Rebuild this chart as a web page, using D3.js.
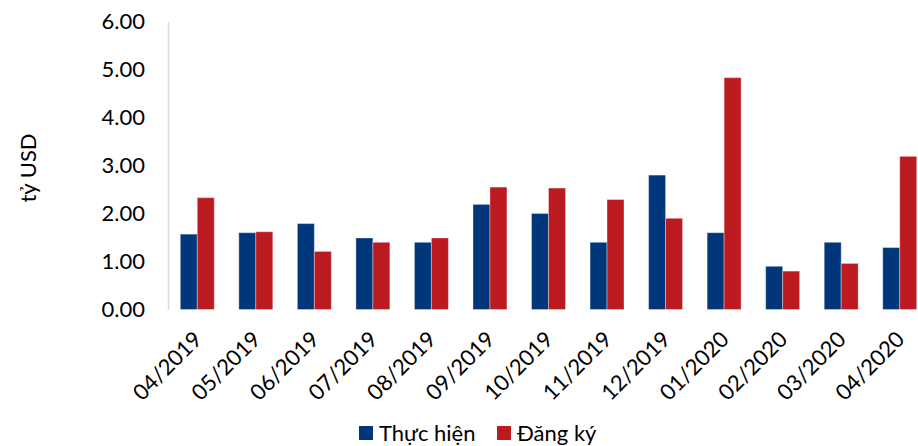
<!DOCTYPE html>
<html>
<head>
<meta charset="utf-8">
<script src="https://cdn.jsdelivr.net/npm/d3@7"></script>
<style>
  html, body { margin: 0; padding: 0; background: #fff; }
  svg { display: block; font-family: Lato, "Open Sans", sans-serif; }
</style>
</head>
<body>
<svg id="chart" width="918" height="446"></svg>
<script>
// Monthly FDI: disbursed (Thực hiện) vs registered (Đăng ký), billion USD
const months = ["04/2019","05/2019","06/2019","07/2019","08/2019","09/2019","10/2019",
                "11/2019","12/2019","01/2020","02/2020","03/2020","04/2020"];
const thucHien = [1.57, 1.60, 1.79, 1.49, 1.40, 2.19, 2.00, 1.40, 2.80, 1.60, 0.90, 1.40, 1.29];
const dangKy   = [2.33, 1.62, 1.21, 1.40, 1.49, 2.55, 2.53, 2.29, 1.90, 4.83, 0.80, 0.96, 3.19];
const yTicks = [0, 1, 2, 3, 4, 5, 6];
const seriesNames = ["Thực hiện", "Đăng ký"];
const colors = ["#00377a", "#bb1a21"];

const svg = d3.select("#chart");
const plotLeft = 168, plotRight = 929, plotTop = 21.5, plotBottom = 309.5;

const x = d3.scaleBand().domain(months).range([plotLeft, plotRight])
  .paddingInner(0.42).paddingOuter(0.21);
const sub = d3.scaleBand().domain(seriesNames).range([0, x.bandwidth()]);
const y = d3.scaleLinear().domain([0, 6]).range([plotBottom, plotTop]);

// Bars
const rows = months.map((m, i) => ({ m, vals: [thucHien[i], dangKy[i]] }));
const g = svg.append("g");
g.selectAll("g.grp").data(rows).join("g")
  .attr("class", "grp")
  .attr("transform", d => `translate(${x(d.m)},0)`)
  .selectAll("rect").data(d => d.vals.map((v, k) => ({ v, k })))
  .join("rect")
  .attr("x", d => sub(seriesNames[d.k]))
  .attr("width", sub.bandwidth())
  .attr("y", d => y(d.v))
  .attr("height", d => y(0) - y(d.v))
  .attr("fill", d => colors[d.k])
  .attr("stroke", "rgba(255,255,255,0.35)")
  .attr("stroke-width", 1);

// Y axis
const yAxis = svg.append("g")
  .attr("transform", `translate(${plotLeft},0)`)
  .call(d3.axisLeft(y).tickValues(yTicks).tickFormat(d3.format(".2f"))
    .tickSize(0).tickPadding(23));
yAxis.select(".domain").attr("stroke", "#d9d9d9").attr("stroke-width", 1.5);
yAxis.selectAll("text").attr("font-size", 22).attr("fill", "#000")
  .attr("font-family", "Lato, sans-serif");

// X axis labels
const xAxis = svg.append("g")
  .attr("transform", `translate(0,${plotBottom})`)
  .call(d3.axisBottom(x).tickSize(0));
xAxis.select(".domain").remove();
xAxis.selectAll("text")
  .attr("font-size", 22).attr("fill", "#000")
  .attr("font-family", "Lato, sans-serif")
  .attr("text-anchor", "end")
  .attr("dy", 0)
  .attr("transform", "translate(4,29) rotate(-45)");

// Y axis title
svg.append("text")
  .attr("transform", "translate(36,168) rotate(-90)")
  .attr("text-anchor", "middle")
  .attr("font-size", 22)
  .attr("fill", "#000")
  .text("tỷ USD");

// Legend
const legend = svg.append("g").attr("transform", "translate(359,426)");
const items = [{ name: seriesNames[0], dx: 0 }, { name: seriesNames[1], dx: 138 }];
items.forEach((it, k) => {
  const lg = legend.append("g").attr("transform", `translate(${it.dx},0)`);
  lg.append("rect").attr("width", 14).attr("height", 14).attr("fill", colors[k]);
  lg.append("text").attr("x", 20).attr("y", 7).attr("dy", "0.35em")
    .attr("font-size", 22).attr("fill", "#000").text(it.name);
});
</script>
</body>
</html>
